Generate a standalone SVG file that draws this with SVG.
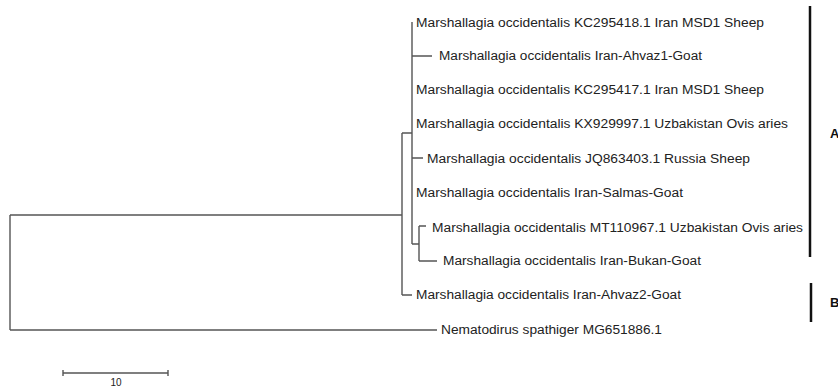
<svg xmlns="http://www.w3.org/2000/svg" width="838" height="388" viewBox="0 0 838 388">
<style>
.t{font-family:"Liberation Sans",Arial,sans-serif;font-size:12px;fill:#222}
.e{stroke:#555;stroke-width:1.4;fill:none}
.bar{stroke:#111;stroke-width:2.5}
.lab{font-family:"Liberation Sans",Arial,sans-serif;font-size:13px;font-weight:bold;fill:#111}
</style>
<rect width="838" height="388" fill="#fff"/>
<g id="connectors">
<path class="e" d="M10,215 V330 M10,215 H402 M10,330 H437"/>
<path class="e" d="M402,133 V295 M402,133 H412 M402,295 H412"/>
<path class="e" d="M412,22 V244 M412,56 H432 M412,158 H423 M412,244 H419"/>
<path class="e" d="M419,226 V261 M419,226 H426 M419,261 H437"/>
</g>
<g id="leaf1"><text class="t" x="416" y="27" textLength="348" lengthAdjust="spacingAndGlyphs">Marshallagia occidentalis KC295418.1 Iran MSD1 Sheep</text></g>
<g id="leaf2"><text class="t" x="439" y="60" textLength="263" lengthAdjust="spacingAndGlyphs">Marshallagia occidentalis Iran-Ahvaz1-Goat</text></g>
<g id="leaf3"><text class="t" x="416" y="94" textLength="348" lengthAdjust="spacingAndGlyphs">Marshallagia occidentalis KC295417.1 Iran MSD1 Sheep</text></g>
<g id="leaf4"><text class="t" x="416" y="128" textLength="372" lengthAdjust="spacingAndGlyphs">Marshallagia occidentalis KX929997.1 Uzbakistan Ovis aries</text></g>
<g id="leaf5"><text class="t" x="427" y="163" textLength="323" lengthAdjust="spacingAndGlyphs">Marshallagia occidentalis JQ863403.1 Russia Sheep</text></g>
<g id="leaf6"><text class="t" x="416" y="197" textLength="267" lengthAdjust="spacingAndGlyphs">Marshallagia occidentalis Iran-Salmas-Goat</text></g>
<g id="leaf7"><text class="t" x="432" y="232" textLength="371" lengthAdjust="spacingAndGlyphs">Marshallagia occidentalis MT110967.1 Uzbakistan Ovis aries</text></g>
<g id="leaf8"><text class="t" x="443" y="265" textLength="258" lengthAdjust="spacingAndGlyphs">Marshallagia occidentalis Iran-Bukan-Goat</text></g>
<g id="leaf9"><text class="t" x="416" y="299" textLength="265" lengthAdjust="spacingAndGlyphs">Marshallagia occidentalis Iran-Ahvaz2-Goat</text></g>
<g id="leaf10"><text class="t" x="441" y="334" textLength="221" lengthAdjust="spacingAndGlyphs">Nematodirus spathiger MG651886.1</text></g>
<g id="cladeA"><line class="bar" x1="810" y1="6" x2="810" y2="257"/><text class="lab" x="830" y="138">A</text></g>
<g id="cladeB"><line class="bar" x1="811" y1="283" x2="811" y2="322"/><text class="lab" x="830" y="307">B</text></g>
<g id="scale">
<path class="e" d="M63,373 H168 M63,370 V376 M168,370 V376"/>
<text class="t" x="116" y="386" text-anchor="middle" style="font-size:10px">10</text>
</g>
</svg>
